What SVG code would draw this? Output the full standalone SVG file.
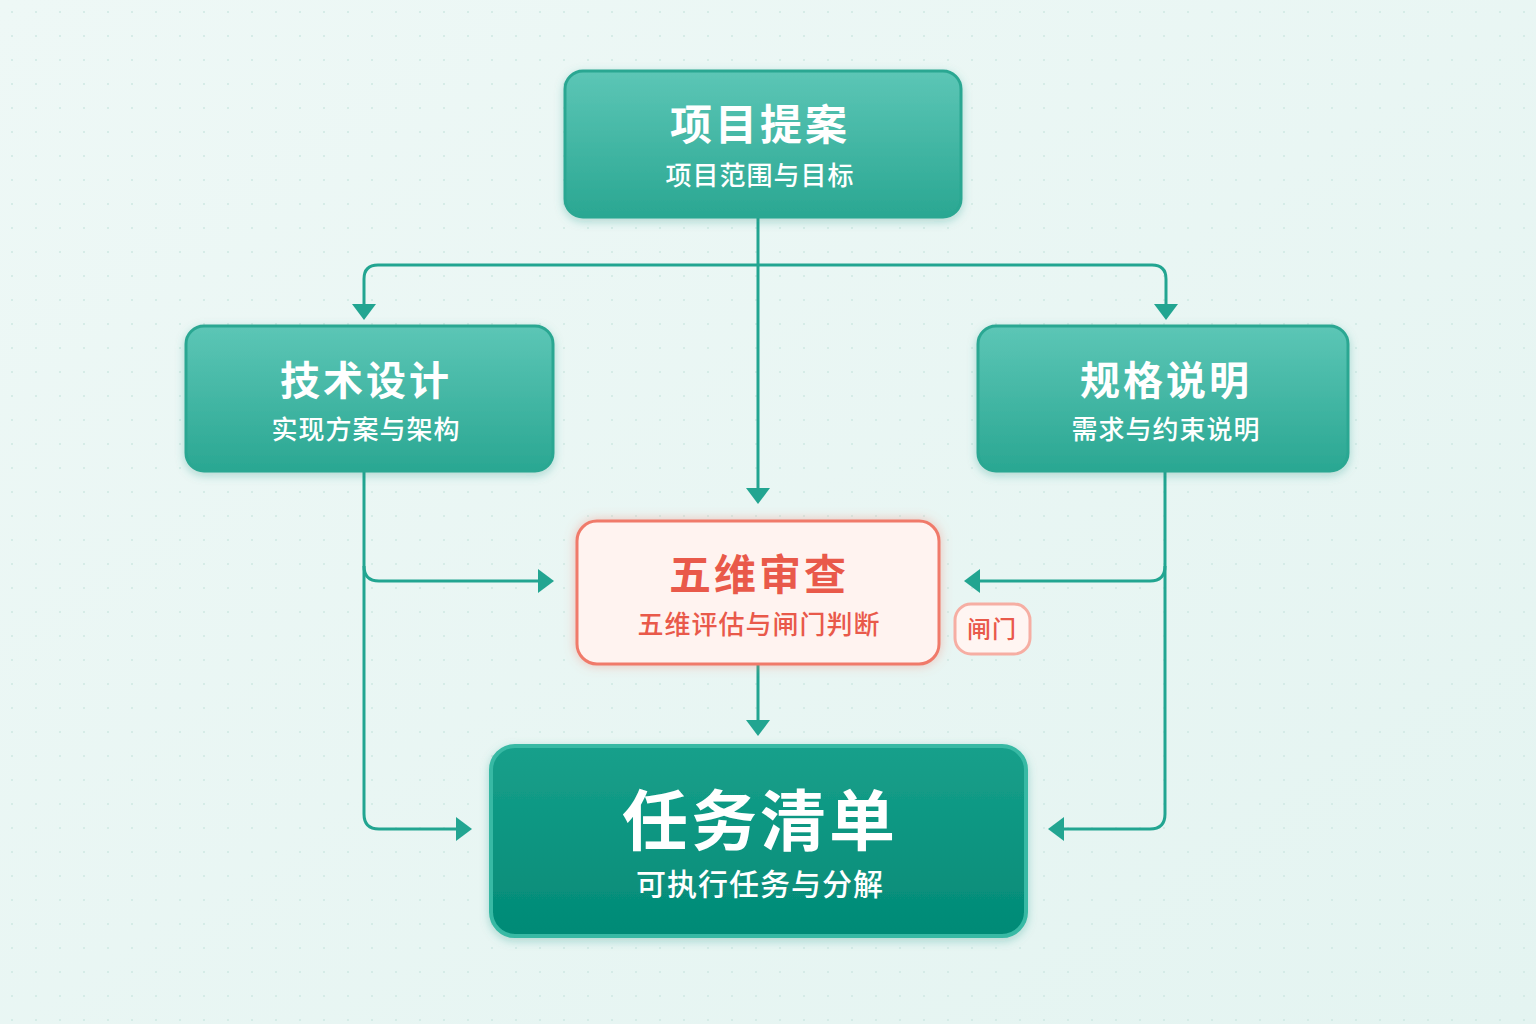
<svg xmlns="http://www.w3.org/2000/svg" width="1536" height="1024" viewBox="0 0 1536 1024">
<defs>
<linearGradient id="bg" x1="0" y1="0" x2="1" y2="1"><stop offset="0" stop-color="#eef8f6"/><stop offset="1" stop-color="#e4f4f1"/></linearGradient>
<linearGradient id="tg" x1="0" y1="0" x2="0" y2="1"><stop offset="0" stop-color="#5cc6b6"/><stop offset="1" stop-color="#2aa792"/></linearGradient>
<linearGradient id="dg" x1="0" y1="0" x2="0" y2="1"><stop offset="0" stop-color="#17a08b"/><stop offset="1" stop-color="#028a76"/></linearGradient>
<pattern id="dots" width="24" height="24" patternUnits="userSpaceOnUse"><circle cx="12" cy="12" r="1" fill="#cfe8e3"/></pattern>
<filter id="sh" x="-20%" y="-20%" width="140%" height="140%"><feDropShadow dx="0" dy="3" stdDeviation="5" flood-color="#1a8f7d" flood-opacity="0.3"/></filter>
<filter id="rg" x="-20%" y="-20%" width="140%" height="140%"><feDropShadow dx="0" dy="0" stdDeviation="6" flood-color="#f28070" flood-opacity="0.45"/></filter>
</defs>
<style>
.ln{fill:none;stroke:#22a591;stroke-width:3}
.ah{fill:#22a591}
.t{font-family:"Noto Sans CJK SC","Noto Sans",sans-serif;text-anchor:middle;font-weight:700;fill:#fff;letter-spacing:3px}
.s{font-family:"Noto Sans CJK SC","Noto Sans",sans-serif;text-anchor:middle;font-weight:500;fill:#fff;letter-spacing:1px}
.tn{fill:url(#tg);stroke:#2aa792;stroke-width:3;filter:url(#sh)}
.r{fill:#e9594a}
</style>
<rect width="1536" height="1024" fill="url(#bg)"/>
<rect width="1536" height="1024" fill="url(#dots)"/>
<g id="connectors">
<path class="ln" d="M758,218 V492"/>
<path class="ah" d="M746,488 L770,488 L758,504 z"/>
<path class="ln" d="M758,265 H378 Q364,265 364,279 V306"/>
<path class="ah" d="M352,304 L376,304 L364,320 z"/>
<path class="ln" d="M758,265 H1152 Q1166,265 1166,279 V306"/>
<path class="ah" d="M1154,304 L1178,304 L1166,320 z"/>
<path class="ln" d="M364,472 V566 Q364,581 379,581 H542"/>
<path class="ah" d="M538,569 L538,593 L554,581 z"/>
<path class="ln" d="M364,566 V814 Q364,829 379,829 H460"/>
<path class="ah" d="M456,817 L456,841 L472,829 z"/>
<path class="ln" d="M1165,472 V566 Q1165,581 1150,581 H976"/>
<path class="ah" d="M980,569 L980,593 L964,581 z"/>
<path class="ln" d="M1165,566 V814 Q1165,829 1150,829 H1060"/>
<path class="ah" d="M1064,817 L1064,841 L1048,829 z"/>
<path class="ln" d="M758,664 V722"/>
<path class="ah" d="M746,720 L770,720 L758,736 z"/>
</g>
<g id="proposal">
<rect class="tn" x="565" y="71" width="396" height="146" rx="18"/>
<text class="t" x="760" y="140" font-size="42">项目提案</text>
<text class="s" x="760" y="185" font-size="26">项目范围与目标</text>
</g>
<g id="tech">
<rect class="tn" x="186" y="326" width="367" height="145" rx="18"/>
<text class="t" x="366" y="395" font-size="40">技术设计</text>
<text class="s" x="366" y="439" font-size="26">实现方案与架构</text>
</g>
<g id="spec">
<rect class="tn" x="978" y="326" width="370" height="145" rx="18"/>
<text class="t" x="1166" y="395" font-size="40">规格说明</text>
<text class="s" x="1166" y="439" font-size="26">需求与约束说明</text>
</g>
<g id="review">
<rect x="577" y="521" width="362" height="143" rx="20" fill="#fff3f0" stroke="#f07a6a" stroke-width="3" filter="url(#rg)"/>
<text class="t r" x="759" y="590" font-size="42">五维审查</text>
<text class="s r" x="759" y="634" font-size="26">五维评估与闸门判断</text>
</g>
<g id="gate">
<rect x="955" y="604" width="75" height="50" rx="16" fill="#fff5f2" stroke="#f6aea3" stroke-width="3"/>
<text class="s r" x="992" y="638" font-size="24">闸门</text>
</g>
<g id="tasks">
<rect x="491" y="746" width="535" height="190" rx="24" fill="url(#dg)" stroke="#37b9a4" stroke-width="4" filter="url(#sh)"/>
<text class="t" x="760" y="845" font-size="66">任务清单</text>
<text class="s" x="760" y="895" font-size="30">可执行任务与分解</text>
</g>
</svg>
